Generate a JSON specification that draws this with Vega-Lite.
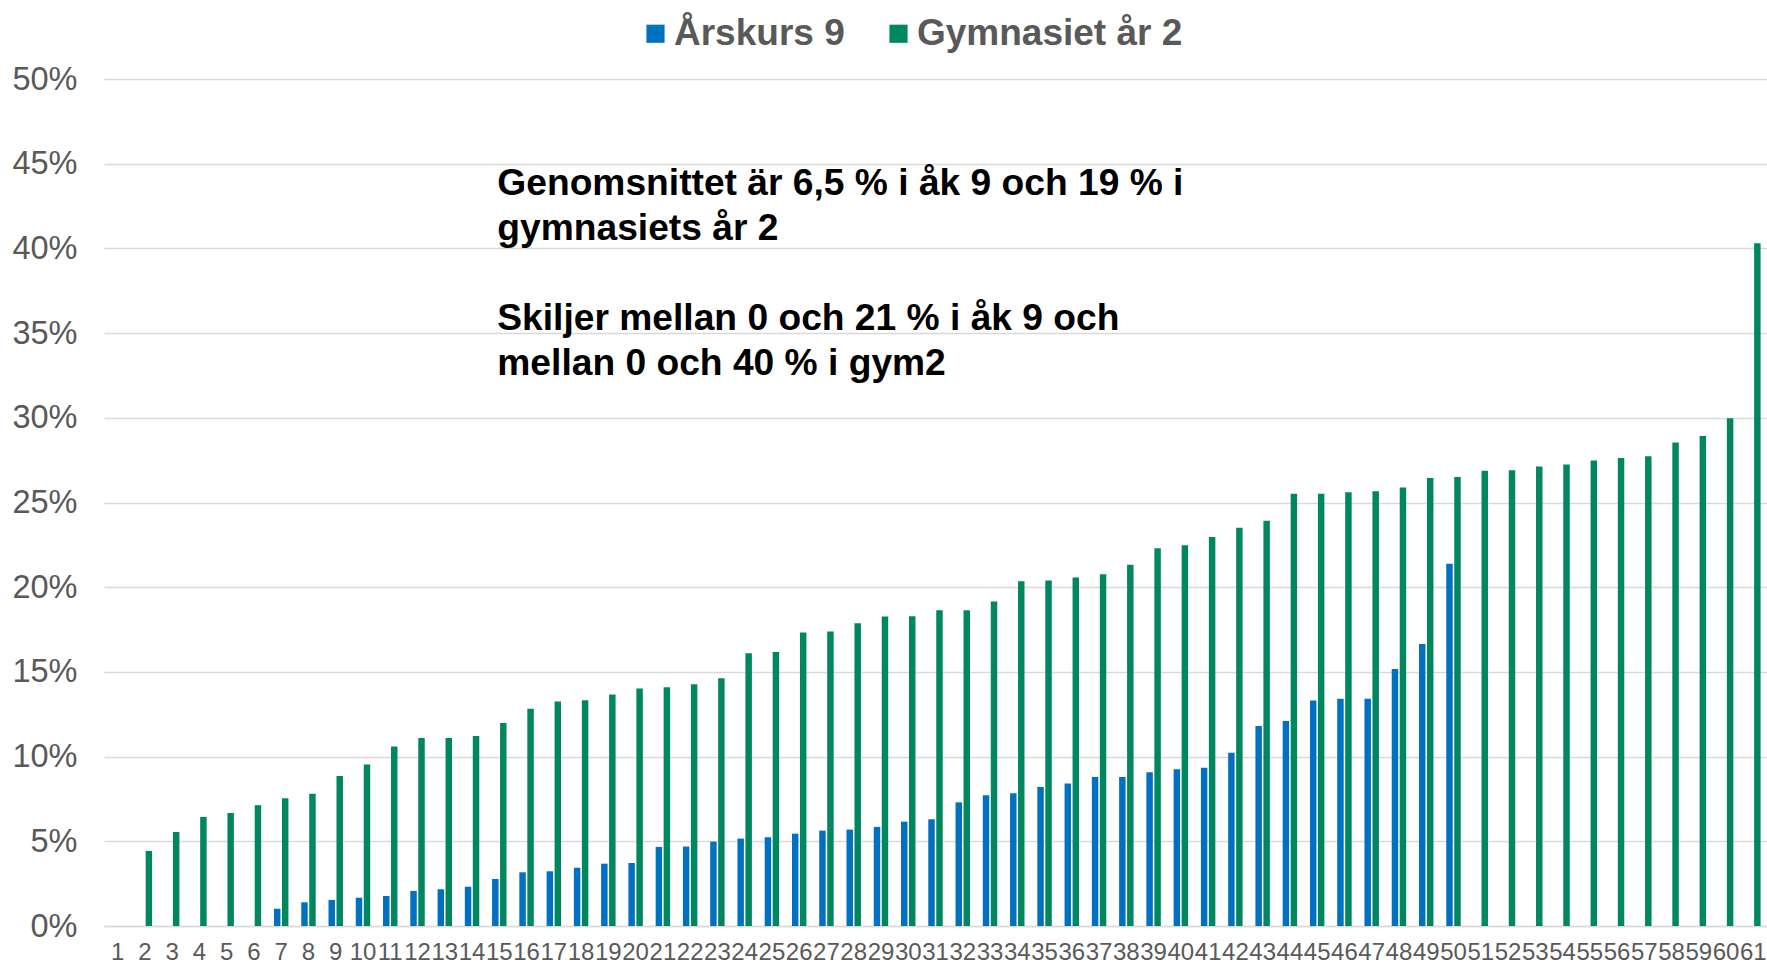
{
  "$schema": "https://vega.github.io/schema/vega-lite/v6.json",
  "width": 1663,
  "height": 847,
  "autosize": {"type": "none"},
  "padding": {"left": 104, "top": 79, "right": 0, "bottom": 40},
  "background": "white",
  "config": {
    "view": {"stroke": null},
    "font": "Liberation Sans"
  },
  "data": {
    "values": [
      {"k": 1, "Årskurs 9": null, "Gymnasiet år 2": 0},
      {"k": 2, "Årskurs 9": null, "Gymnasiet år 2": 4.43},
      {"k": 3, "Årskurs 9": null, "Gymnasiet år 2": 5.55},
      {"k": 4, "Årskurs 9": null, "Gymnasiet år 2": 6.44},
      {"k": 5, "Årskurs 9": null, "Gymnasiet år 2": 6.67},
      {"k": 6, "Årskurs 9": null, "Gymnasiet år 2": 7.13},
      {"k": 7, "Årskurs 9": 1.02, "Gymnasiet år 2": 7.54},
      {"k": 8, "Årskurs 9": 1.40, "Gymnasiet år 2": 7.81},
      {"k": 9, "Årskurs 9": 1.54, "Gymnasiet år 2": 8.86},
      {"k": 10, "Årskurs 9": 1.67, "Gymnasiet år 2": 9.53},
      {"k": 11, "Årskurs 9": 1.77, "Gymnasiet år 2": 10.59},
      {"k": 12, "Årskurs 9": 2.07, "Gymnasiet år 2": 11.10},
      {"k": 13, "Årskurs 9": 2.17, "Gymnasiet år 2": 11.10},
      {"k": 14, "Årskurs 9": 2.32, "Gymnasiet år 2": 11.22},
      {"k": 15, "Årskurs 9": 2.78, "Gymnasiet år 2": 11.99},
      {"k": 16, "Årskurs 9": 3.17, "Gymnasiet år 2": 12.83},
      {"k": 17, "Årskurs 9": 3.23, "Gymnasiet år 2": 13.25},
      {"k": 18, "Årskurs 9": 3.44, "Gymnasiet år 2": 13.33},
      {"k": 19, "Årskurs 9": 3.68, "Gymnasiet år 2": 13.66},
      {"k": 20, "Årskurs 9": 3.72, "Gymnasiet år 2": 14.02},
      {"k": 21, "Årskurs 9": 4.67, "Gymnasiet år 2": 14.09},
      {"k": 22, "Årskurs 9": 4.69, "Gymnasiet år 2": 14.27},
      {"k": 23, "Årskurs 9": 4.98, "Gymnasiet år 2": 14.63},
      {"k": 24, "Årskurs 9": 5.16, "Gymnasiet år 2": 16.10},
      {"k": 25, "Årskurs 9": 5.24, "Gymnasiet år 2": 16.18},
      {"k": 26, "Årskurs 9": 5.45, "Gymnasiet år 2": 17.32},
      {"k": 27, "Årskurs 9": 5.63, "Gymnasiet år 2": 17.38},
      {"k": 28, "Årskurs 9": 5.69, "Gymnasiet år 2": 17.87},
      {"k": 29, "Årskurs 9": 5.85, "Gymnasiet år 2": 18.27},
      {"k": 30, "Årskurs 9": 6.16, "Gymnasiet år 2": 18.29},
      {"k": 31, "Årskurs 9": 6.30, "Gymnasiet år 2": 18.64},
      {"k": 32, "Årskurs 9": 7.30, "Gymnasiet år 2": 18.64},
      {"k": 33, "Årskurs 9": 7.72, "Gymnasiet år 2": 19.15},
      {"k": 34, "Årskurs 9": 7.83, "Gymnasiet år 2": 20.35},
      {"k": 35, "Årskurs 9": 8.21, "Gymnasiet år 2": 20.39},
      {"k": 36, "Årskurs 9": 8.41, "Gymnasiet år 2": 20.57},
      {"k": 37, "Årskurs 9": 8.80, "Gymnasiet år 2": 20.77},
      {"k": 38, "Årskurs 9": 8.80, "Gymnasiet år 2": 21.32},
      {"k": 39, "Årskurs 9": 9.07, "Gymnasiet år 2": 22.30},
      {"k": 40, "Årskurs 9": 9.25, "Gymnasiet år 2": 22.47},
      {"k": 41, "Årskurs 9": 9.34, "Gymnasiet år 2": 22.96},
      {"k": 42, "Årskurs 9": 10.22, "Gymnasiet år 2": 23.51},
      {"k": 43, "Årskurs 9": 11.81, "Gymnasiet år 2": 23.93},
      {"k": 44, "Årskurs 9": 12.10, "Gymnasiet år 2": 25.52},
      {"k": 45, "Årskurs 9": 13.31, "Gymnasiet år 2": 25.52},
      {"k": 46, "Årskurs 9": 13.42, "Gymnasiet år 2": 25.61},
      {"k": 47, "Årskurs 9": 13.42, "Gymnasiet år 2": 25.67},
      {"k": 48, "Årskurs 9": 15.17, "Gymnasiet år 2": 25.89},
      {"k": 49, "Årskurs 9": 16.64, "Gymnasiet år 2": 26.45},
      {"k": 50, "Årskurs 9": 21.39, "Gymnasiet år 2": 26.51},
      {"k": 51, "Årskurs 9": null, "Gymnasiet år 2": 26.87},
      {"k": 52, "Årskurs 9": null, "Gymnasiet år 2": 26.91},
      {"k": 53, "Årskurs 9": null, "Gymnasiet år 2": 27.13},
      {"k": 54, "Årskurs 9": null, "Gymnasiet år 2": 27.24},
      {"k": 55, "Årskurs 9": null, "Gymnasiet år 2": 27.48},
      {"k": 56, "Årskurs 9": null, "Gymnasiet år 2": 27.62},
      {"k": 57, "Årskurs 9": null, "Gymnasiet år 2": 27.73},
      {"k": 58, "Årskurs 9": null, "Gymnasiet år 2": 28.54},
      {"k": 59, "Årskurs 9": null, "Gymnasiet år 2": 28.92},
      {"k": 60, "Årskurs 9": null, "Gymnasiet år 2": 29.98},
      {"k": 61, "Årskurs 9": null, "Gymnasiet år 2": 40.30}
    ]
  },
  "layer": [
    {
      "transform": [
        {"fold": ["Årskurs 9", "Gymnasiet år 2"], "as": ["serie", "andel"]}
      ],
      "mark": {"type": "bar"},
      "encoding": {
        "x": {
          "field": "k",
          "type": "ordinal",
          "scale": {"paddingInner": 0.47, "paddingOuter": 0.235},
          "axis": {
            "title": null,
            "labelAngle": 0,
            "labelFontSize": 24,
            "labelColor": "#595959",
            "labelPadding": 14,
            "labelOverlap": false,
            "ticks": false,
            "domainColor": "#D9D9D9",
            "domainWidth": 1.5,
            "grid": false
          }
        },
        "xOffset": {
          "field": "serie",
          "type": "nominal",
          "sort": ["Årskurs 9", "Gymnasiet år 2"],
          "scale": {"paddingInner": 0.19, "paddingOuter": 0}
        },
        "y": {
          "field": "andel",
          "type": "quantitative",
          "scale": {"domain": [0, 50], "nice": false},
          "axis": {
            "title": null,
            "values": [0, 5, 10, 15, 20, 25, 30, 35, 40, 45, 50],
            "labelExpr": "datum.value + '%'",
            "labelFontSize": 32.5,
            "labelColor": "#595959",
            "labelPadding": 27,
            "ticks": false,
            "domain": false,
            "grid": true,
            "gridColor": "#D9D9D9",
            "gridWidth": 1.5
          }
        },
        "color": {
          "field": "serie",
          "type": "nominal",
          "scale": {"domain": ["Årskurs 9", "Gymnasiet år 2"], "range": ["#0070C0", "#00875F"]},
          "legend": {
            "title": null,
            "orient": "none",
            "direction": "horizontal",
            "legendX": 533,
            "legendY": -64,
            "symbolType": "square",
            "symbolSize": 330,
            "symbolStrokeWidth": 0,
            "labelFontSize": 37,
            "labelFontWeight": "bold",
            "labelColor": "#595959",
            "labelOffset": 0,
            "columnPadding": 35,
            "labelLimit": 500
          }
        }
      }
    },
    {
      "transform": [{"filter": "datum.k === 15"}],
      "mark": {
        "type": "text",
        "text": ["Genomsnittet är 6,5 % i åk 9 och 19 % i", "gymnasiets år 2"],
        "align": "left",
        "baseline": "alphabetic",
        "fontSize": 37.2,
        "fontWeight": "bold",
        "lineHeight": 45,
        "color": "#000000",
        "dx": -2
      },
      "encoding": {
        "x": {"field": "k", "type": "ordinal"},
        "y": {"datum": 43.15, "type": "quantitative"}
      }
    },
    {
      "transform": [{"filter": "datum.k === 15"}],
      "mark": {
        "type": "text",
        "text": ["Skiljer mellan 0 och 21 % i åk 9 och", "mellan 0 och 40 % i gym2"],
        "align": "left",
        "baseline": "alphabetic",
        "fontSize": 37.2,
        "fontWeight": "bold",
        "lineHeight": 45,
        "color": "#000000",
        "dx": -2
      },
      "encoding": {
        "x": {"field": "k", "type": "ordinal"},
        "y": {"datum": 35.2, "type": "quantitative"}
      }
    }
  ]
}
